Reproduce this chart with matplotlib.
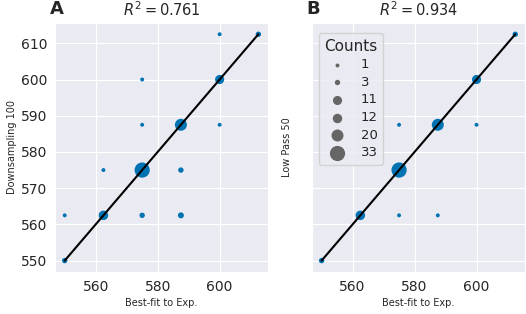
import numpy as np
import matplotlib
matplotlib.use("Agg")
import matplotlib.pyplot as plt
import seaborn as sns

# panel A: best-fit vs downsampling 100
a_x = [550, 550, 562.5, 562.5, 575, 575, 575, 575, 587.5, 587.5, 587.5, 600, 600, 600, 612.5]
a_y = [550, 562.5, 562.5, 575, 575, 562.5, 587.5, 600, 587.5, 575, 562.5, 600, 587.5, 612.5, 612.5]
a_n = [3, 1, 12, 1, 33, 3, 1, 1, 20, 3, 4, 11, 1, 1, 3]

# panel B: best-fit vs low pass 50
b_x = [550, 562.5, 575, 575, 575, 587.5, 587.5, 600, 600, 612.5]
b_y = [550, 562.5, 575, 587.5, 562.5, 562.5, 587.5, 600, 587.5, 612.5]
b_n = [3, 12, 33, 1, 1, 1, 20, 11, 1, 3]

legend_counts = [1, 3, 11, 12, 20, 33]
r2 = [0.761, 0.934]
panel_tags = ["A", "B"]
y_labels = ["Downsampling 100", "Low Pass 50"]

sns.set_style("darkgrid")
plt.rcParams['font.family'] = ['DejaVu Sans']

blue = "#0173b2"
s_min, s_max = 8, 120
n_min, n_max = min(legend_counts), max(legend_counts)


def size_of(n):
    n = np.asarray(n, dtype=float)
    return s_min + (n - n_min) / (n_max - n_min) * (s_max - s_min)


fig = plt.figure(figsize=(5.26, 3.14), dpi=100)
ax1 = fig.add_axes([0.1046, 0.134, 0.405, 0.793])
ax2 = fig.add_axes([0.593, 0.134, 0.405, 0.793], sharey=ax1)

for i, (ax, xs, ys, ns) in enumerate([(ax1, a_x, a_y, a_n), (ax2, b_x, b_y, b_n)]):
    lo, hi = min(xs), max(xs)
    ax.scatter(xs, ys, s=size_of(ns), color=blue, linewidths=0, zorder=2)
    ax.plot([lo, hi], [lo, hi], color="black", lw=1.5, zorder=3)
    ax.set_xticks([560, 580, 600])
    ax.set_yticks([550, 560, 570, 580, 590, 600, 610])
    ax.tick_params(labelsize=10, pad=2)
    ax.set_xlabel("Best-fit to Exp.", fontsize=7, labelpad=3)
    ax.set_ylabel(y_labels[i], fontsize=7, labelpad=3)
    ax.set_title("$R^2 = %.3f$" % r2[i], fontsize=10.5, pad=5)
    ax.text(-0.025, 1.02, panel_tags[i], transform=ax.transAxes,
            fontsize=13, fontweight="bold", va="bottom", ha="left")

plt.setp(ax2.get_yticklabels(), visible=False)
ax2.yaxis.labelpad = 14

handles = [ax2.scatter([], [], s=size_of(c), color="#666666", linewidths=0)
           for c in legend_counts]
leg = ax2.legend(handles, [str(c) for c in legend_counts], title="Counts",
                 loc="upper left", fontsize=9.5, title_fontsize=11,
                 handletextpad=0.8, labelspacing=0.35, borderpad=0.4,
                 bbox_to_anchor=(0.0, 0.985), frameon=True)

fig.savefig("out.png", dpi=100)
